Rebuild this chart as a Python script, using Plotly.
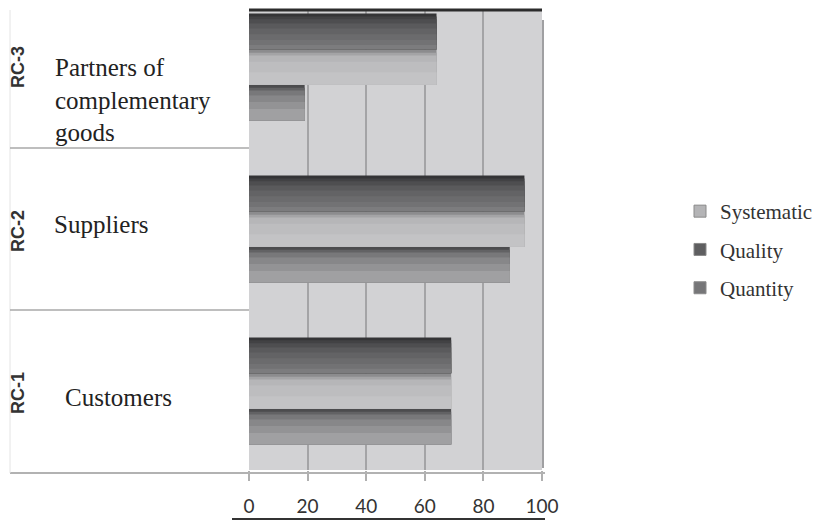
import plotly.graph_objects as go

# ---- data ----
categories = ["Customers", "Suppliers", "Partners of complementary goods"]
rc_labels = ["RC-1", "RC-2", "RC-3"]
series_names = ["Systematic", "Quality", "Quantity"]
systematic = [69, 94, 64]
quality = [69, 94, 64]
quantity = [69, 89, 19]
x_ticks = [0, 20, 40, 60, 80, 100]

values = {"Systematic": systematic, "Quality": quality, "Quantity": quantity}

# ---- styles ----
W = 0.22
offsets = {"Quantity": -0.33, "Systematic": -0.11, "Quality": 0.11}
# colour bands: (start fraction from top of bar, colour); each band runs to the bar bottom
bands = {
    "Quality": [(0.00, "#343436"), (0.08, "#424244"), (0.16, "#4e4e50"), (0.28, "#5a5a5c"),
                (0.42, "#636365"), (0.58, "#6b6b6d"), (0.74, "#727274"), (0.88, "#7c7c7e")],
    "Systematic": [(0.00, "#8c8c8e"), (0.10, "#a4a4a6"), (0.18, "#b6b6b8"),
                   (0.35, "#bdbdbf"), (0.65, "#c3c3c5")],
    "Quantity": [(0.00, "#4c4c4e"), (0.08, "#626264"), (0.16, "#78787a"),
                 (0.30, "#878789"), (0.48, "#939395"), (0.68, "#a0a0a2")],
}
legend_colors = {"Systematic": "#b4b4b6", "Quality": "#5e5e60", "Quantity": "#767678"}
rank = {"Systematic": 1, "Quality": 2, "Quantity": 3}

fig = go.Figure()
for s in ["Quantity", "Systematic", "Quality"]:
    off = offsets[s]
    for f0, col in bands[s]:
        fig.add_trace(go.Bar(
            x=values[s], y=categories, orientation="h",
            offset=off, width=W * (1 - f0),
            marker=dict(color=col, line=dict(width=0)),
            showlegend=False, legendgroup=s, hoverinfo="skip",
        ))
    fig.add_trace(go.Bar(
        x=[None], y=[None], orientation="h", name=s,
        marker=dict(color=legend_colors[s], line=dict(color="#8a8a8a", width=1)),
        legendgroup=s, legendrank=rank[s], showlegend=True,
    ))

FW, FH = 819, 521
PL, PR, PT, PB = 249, 542, 10, 470

def px_x(px):
    return (px - PL) / (PR - PL)

def px_y(py):
    return (PB - py) / (PB - PT)

shapes = []
shapes.append(dict(type="line", xref="paper", yref="paper", x0=0, x1=1, y0=1, y1=1,
                   line=dict(color="#2c2c2c", width=3)))
shapes.append(dict(type="line", xref="paper", yref="paper", x0=px_x(543), x1=px_x(543),
                   y0=px_y(468), y1=px_y(20), line=dict(color="#a0a0a2", width=2)))
shapes.append(dict(type="line", xref="paper", yref="paper", x0=px_x(10), x1=px_x(545),
                   y0=px_y(473), y1=px_y(473), line=dict(color="#b2b2b2", width=2)))
shapes.append(dict(type="line", xref="paper", yref="paper", x0=px_x(10), x1=px_x(10),
                   y0=px_y(473), y1=px_y(10), line=dict(color="#e4e4e4", width=1)))
for yv in [0.5, 1.5]:
    shapes.append(dict(type="line", xref="paper", yref="y", x0=px_x(10), x1=0,
                       y0=yv, y1=yv, line=dict(color="#a8a8a8", width=1.5)))
shapes.append(dict(type="line", xref="paper", yref="paper", x0=px_x(232), x1=px_x(545),
                   y0=px_y(519), y1=px_y(519), line=dict(color="#333333", width=2)))

annotations = []
serif = "Liberation Serif, Times New Roman, serif"
cat_pos = [
    (categories[0], "Customers", px_x(63), -7),
    (categories[1], "Suppliers", px_x(52), 4),
    (categories[2], "Partners of<br>complementary<br>goods", px_x(53), -33),
]
for yv, txt, xp, ys in cat_pos:
    annotations.append(dict(text=txt, x=xp, y=yv, xref="paper", yref="y",
                            xanchor="left", yanchor="middle", align="left",
                            showarrow=False, yshift=ys,
                            font=dict(family=serif, size=25, color="#222222")))
for yv, lab, ys in zip(categories, rc_labels, [-2, -2, 0]):
    annotations.append(dict(text="<b>" + lab + "</b>", x=px_x(18), y=yv, xref="paper", yref="y",
                            xanchor="center", yanchor="middle", textangle=-90,
                            showarrow=False, yshift=ys,
                            font=dict(family="Liberation Sans, Arial, sans-serif", size=18, color="#333333")))

fig.update_layout(
    width=FW, height=FH,
    margin=dict(l=PL, r=FW - PR, t=PT, b=FH - PB, autoexpand=False),
    paper_bgcolor="white",
    plot_bgcolor="#d2d2d4",
    barmode="overlay",
    shapes=shapes,
    annotations=annotations,
    legend=dict(x=px_x(680), y=px_y(191), xanchor="left", yanchor="top",
                font=dict(family=serif, size=21, color="#333333"),
                tracegroupgap=8, bgcolor="rgba(0,0,0,0)", itemwidth=30),
    xaxis=dict(range=[0, 100], tickvals=x_ticks, ticktext=[str(t) for t in x_ticks],
               showgrid=True, gridcolor="#a4a4a6", gridwidth=2, zeroline=False,
               ticks="outside", ticklen=10, tickcolor="#b0b0b0", tickwidth=1.5,
               ticklabelstandoff=9, automargin=False,
               tickfont=dict(family="Lato, Liberation Sans, sans-serif", size=19, color="#333333"),
               showline=False, fixedrange=True),
    yaxis=dict(type="category", categoryorder="array", categoryarray=categories,
               range=[-0.488, 2.352], showticklabels=False, showgrid=False, automargin=False,
               zeroline=False, showline=False, ticks="", fixedrange=True),
)

fig.write_html("out.html", config={"displayModeBar": False},
               post_script="document.body.style.margin='0px';")
